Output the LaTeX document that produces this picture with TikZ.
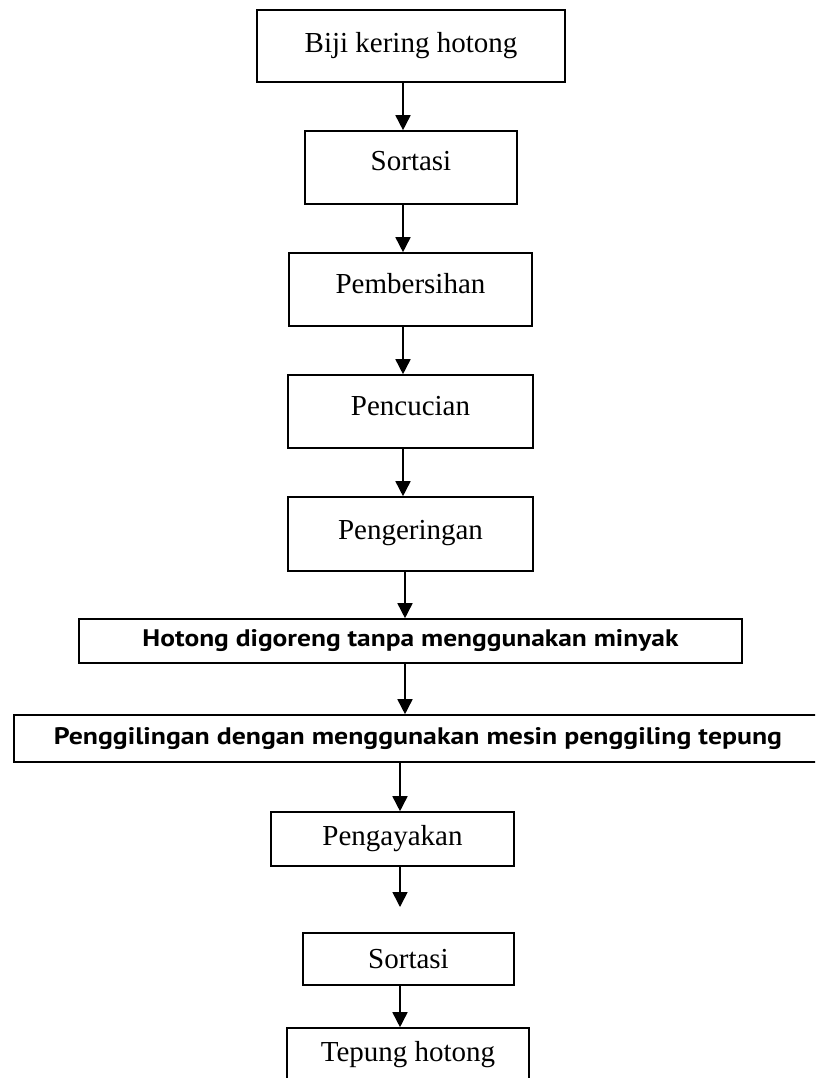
\documentclass[tikz,border=0pt]{standalone}
\usepackage{fontspec}
\setmainfont{Liberation Serif}
\newfontfamily\boxsans{PT Sans}
\usetikzlibrary{arrows.meta}
\begin{document}
\begin{tikzpicture}[x=1pt,y=-1pt,
  stepbox/.style={draw, line width=1.6pt, inner sep=0pt, align=center,
                  font=\fontsize{29}{34}\selectfont},
  arr/.style={line width=1.6pt, -{Triangle[length=15pt,width=15pt]}}]
\clip (0,0) rectangle (815,1078);
\fill[white] (0,0) rectangle (815,1078);

\node[stepbox, minimum width=308pt, minimum height=72pt] (b1) at (411,46) {Biji kering hotong};
\node[stepbox, minimum width=212pt, minimum height=73pt, text depth=14pt] (b2) at (411,167.5) {Sortasi};
\node[stepbox, minimum width=243pt, minimum height=73pt, text depth=12pt] (b3) at (410.5,289.5) {Pembersihan};
\node[stepbox, minimum width=245pt, minimum height=73pt, text depth=12pt] (b4) at (410.5,411.5) {Pencucian};
\node[stepbox, minimum width=245pt, minimum height=74pt, text depth=8pt] (b5) at (410.5,534) {Pengeringan};
\node[stepbox, minimum width=663pt, minimum height=44pt] (b6) at (410.5,641)
  {\resizebox{536pt}{17pt}{\boxsans\bfseries Hotong digoreng tanpa menggunakan minyak}};
\node[stepbox, minimum width=808pt, minimum height=47pt] (b7) at (418,738.5)
  {\resizebox{728pt}{17pt}{\boxsans\bfseries Penggilingan dengan menggunakan mesin penggiling tepung}};
\node[stepbox, minimum width=243pt, minimum height=54pt] (b8) at (392.5,839) {Pengayakan};
\node[stepbox, minimum width=211pt, minimum height=52pt] (b9) at (408.5,959) {Sortasi};
\node[stepbox, minimum width=242pt, minimum height=70pt, text depth=24pt] (b10) at (408,1063) {Tepung hotong};

\coordinate (c1) at (403,0);
\coordinate (c2) at (405,0);
\coordinate (c3) at (400,0);
\coordinate (a9) at (400,907);

\draw[arr] (b1.south -| c1) -- (b2.north -| c1);
\draw[arr] (b2.south -| c1) -- (b3.north -| c1);
\draw[arr] (b3.south -| c1) -- (b4.north -| c1);
\draw[arr] (b4.south -| c1) -- (b5.north -| c1);
\draw[arr] (b5.south -| c2) -- (b6.north -| c2);
\draw[arr] (b6.south -| c2) -- (b7.north -| c2);
\draw[arr] (b7.south -| c3) -- (b8.north -| c3);
\draw[arr] (b8.south -| c3) -- (a9);
\draw[arr] (b9.south -| c3) -- (b10.north -| c3);
\end{tikzpicture}
\end{document}
